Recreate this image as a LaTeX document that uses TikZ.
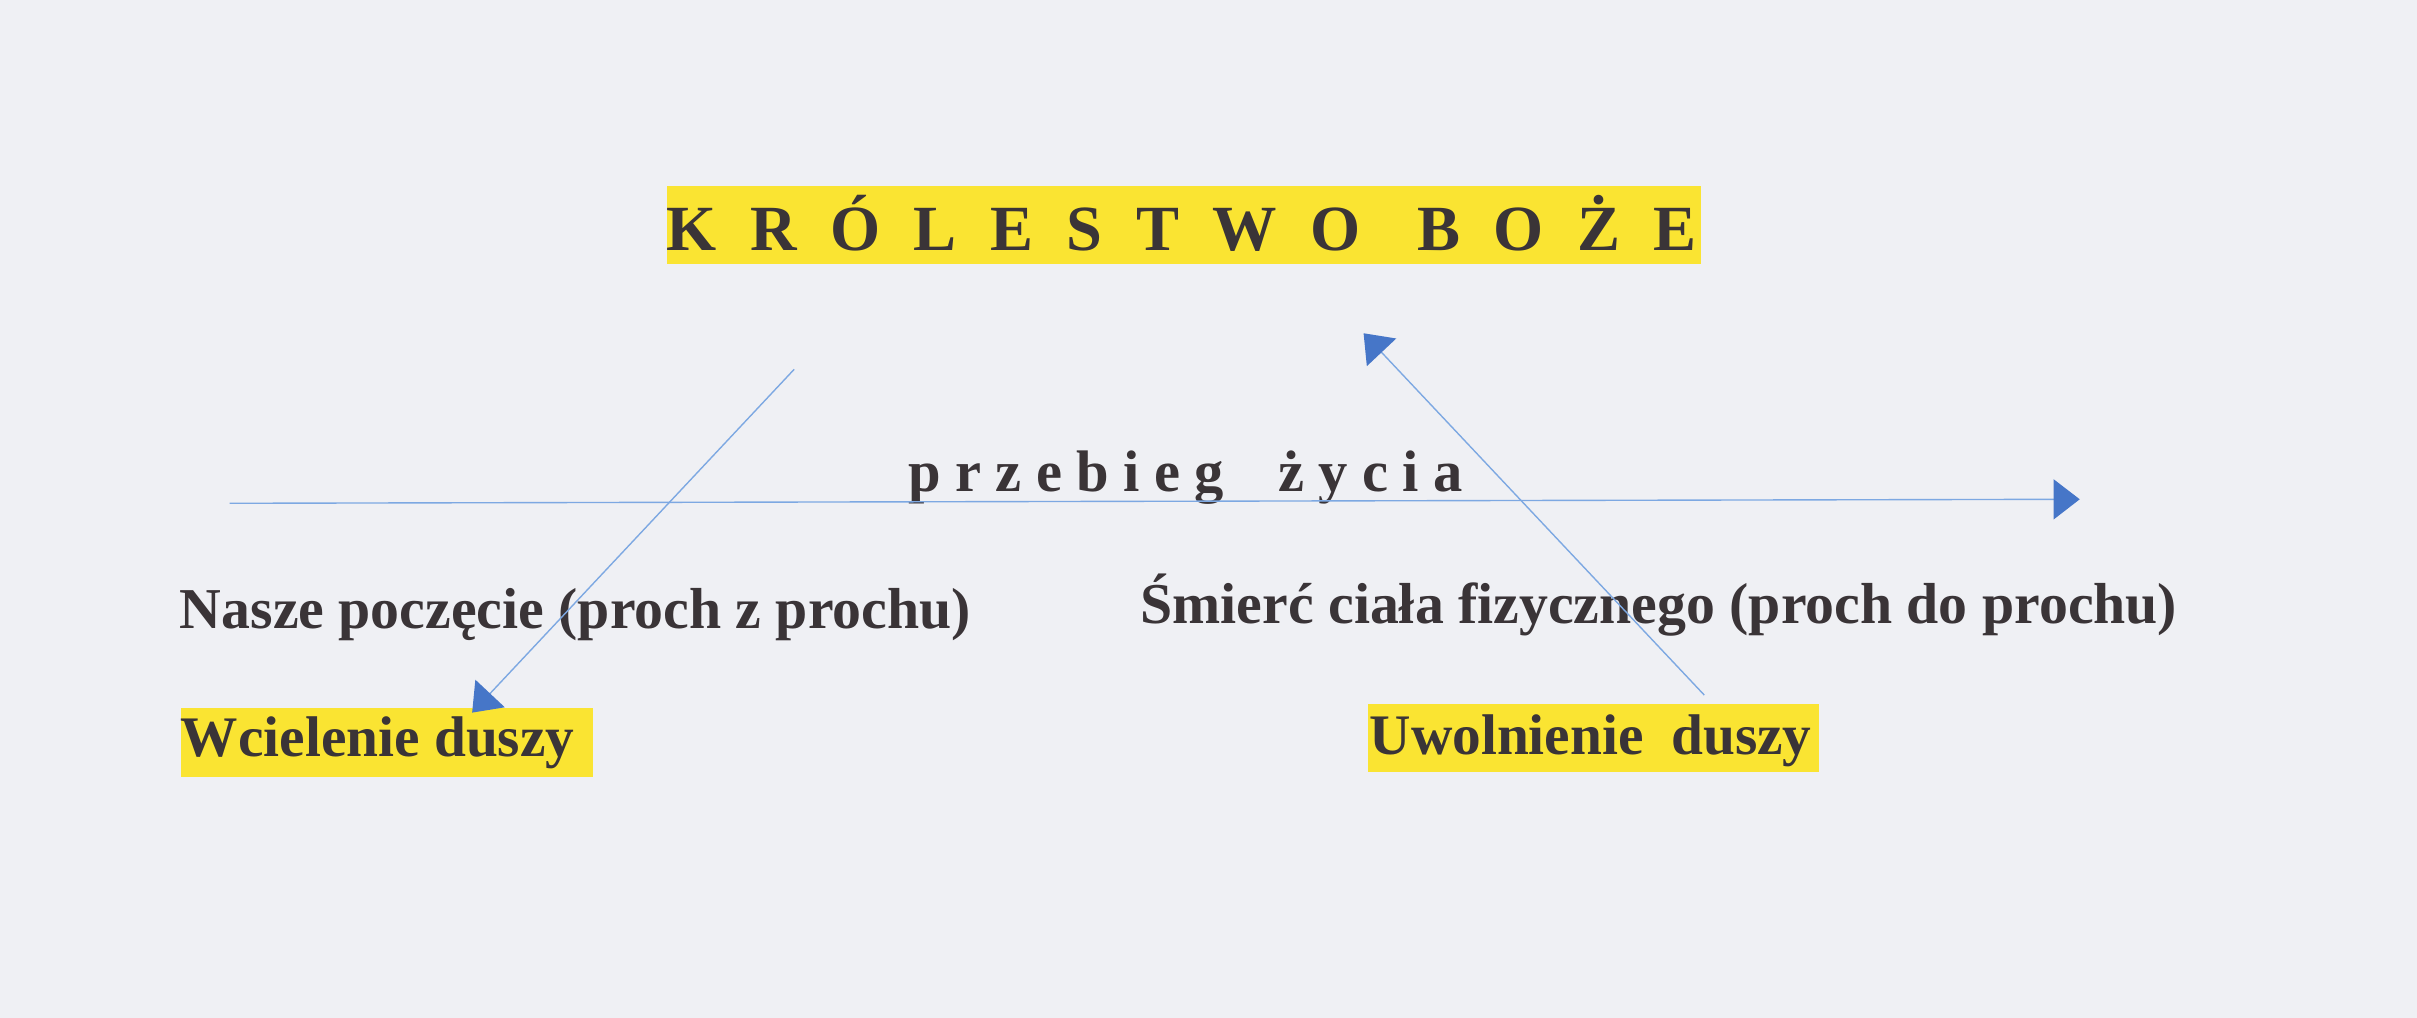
\documentclass[tikz,border=0pt]{standalone}
\usepackage{fontspec}
\setmainfont{Liberation Serif}
\usetikzlibrary{arrows.meta}
\definecolor{paper}{RGB}{239,240,244}
\definecolor{hly}{RGB}{250,228,50}
\definecolor{ink}{RGB}{58,52,55}
\definecolor{lineblue}{RGB}{125,168,226}
\definecolor{tipblue}{RGB}{70,118,200}
\newcommand{\tg}{\hspace{21.7pt}}
\newcommand{\pg}{\hspace{9.3pt}}
\begin{document}
\begin{tikzpicture}[x=1pt,y=-1pt,
  lab/.style={font=\fontsize{37.5}{40}\selectfont\bfseries, text=ink, inner sep=0pt, anchor=base west},
  hl/.style={lab, fill=hly},
  conn/.style={draw=lineblue, line width=0.9pt, -{Triangle[length=17pt,width=26pt,color=tipblue]}}]
  \useasboundingbox (0,0) rectangle (1568,660.4);
  \fill[paper] (0,0) rectangle (1568,660.4);

  % title
  \node[hl, font=\fontsize{41.8}{44}\selectfont\bfseries, text height=41.5pt, text depth=9.1pt]
    (title) at (432.4,162.2)
    {K\tg R\tg Ó\tg L\tg E\tg S\tg T\tg W\tg O\hspace{36.7pt}B\tg O\tg Ż\tg E\kern3pt};

  % life line label
  \node[lab, font=\fontsize{38}{40}\selectfont\bfseries] (life) at (589.3,319)
    {p\pg r\pg z\pg e\pg b\pg i\pg e\pg g\hspace{35.5pt}ż\pg y\pg c\pg i\pg a};

  % labels
  \node[lab] (birth) at (116.5,407.6) {Nasze poczęcie (proch z prochu)};
  \node[lab] (death) at (739.7,404.8) {Śmierć ciała fizycznego (proch do prochu)};

  \node[hl, font=\fontsize{37.2}{40}\selectfont\bfseries, text height=31.4pt, text depth=13pt]
    (incarn) at (117.2,490.9) {Wcielenie duszy\kern12.4pt};
  \node[hl, font=\fontsize{37.2}{40}\selectfont\bfseries, text height=32.7pt, text depth=11.6pt]
    (release) at (887.3,489.4) {\kern1pt Uwolnienie\hspace{18pt}duszy\kern5pt};

  % connector end points
  \coordinate (hs) at (149,326.5);
  \coordinate (he) at (1349.2,323.9);
  \coordinate (ls) at (515.2,239.6);
  \coordinate (le) at (306.3,462.3);
  \coordinate (rs) at (1105.6,450.9);
  \coordinate (re) at (884.6,216.2);

  \draw[conn] (hs) -- (he);
  \draw[conn] (ls) -- (le);
  \draw[conn] (rs) -- (re);
\end{tikzpicture}
\end{document}
